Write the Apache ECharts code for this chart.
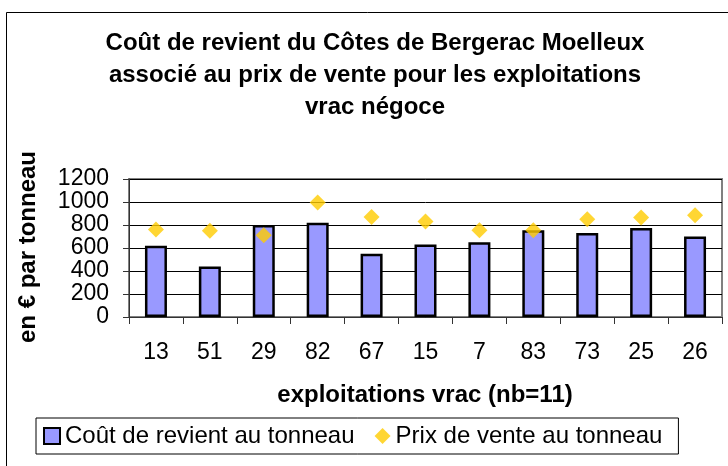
<!DOCTYPE html>
<html>
<head>
<meta charset="utf-8">
<script src="https://cdn.jsdelivr.net/npm/echarts@6/dist/echarts.min.js"></script>
<style>
html,body{margin:0;padding:0;background:#fff;}
#chart{width:728px;height:466px;}
</style>
</head>
<body>
<div id="chart"></div>
<script>
var categories = ['13','51','29','82','67','15','7','83','73','25','26'];
var coutRevient = [620, 440, 800, 820, 550, 630, 650, 755, 730, 775, 700];
var prixVente = [760, 750, 710, 995, 870, 830, 755, 755, 850, 865, 885];
var yTicks = {min: 0, max: 1200, interval: 200};

var FONT = 'Liberation Sans, Arial, sans-serif';
var chart = echarts.init(document.getElementById('chart'), null, {renderer: 'canvas'});
var option = {
  backgroundColor: '#fff',
  animation: false,
  textStyle: {fontFamily: FONT, color: '#000'},
  title: {
    text: 'Coût de revient du Côtes de Bergerac Moelleux\nassocié au prix de vente pour les exploitations\nvrac négoce',
    left: 375, top: 27, padding: 0,
    textAlign: 'center',
    textStyle: {fontFamily: FONT, fontSize: 24, fontWeight: 'bold', lineHeight: 32, color: '#000'}
  },
  legend: {
    left: 36, top: 418,
    padding: [6, 16, 6, 7],
    borderColor: '#000', borderWidth: 1,
    itemWidth: 16, itemHeight: 16, itemGap: 20,
    textStyle: {fontFamily: FONT, fontSize: 24, color: '#000'},
    data: [
      {name: 'Coût de revient au tonneau', icon: 'rect', itemStyle: {color: '#9999FF', borderColor: '#000', borderWidth: 2}},
      {name: 'Prix de vente au tonneau', icon: 'diamond', itemStyle: {color: '#FFCC00'}}
    ]
  },
  grid: {
    left: 129, top: 179, right: 6, bottom: 149,
    show: true, borderColor: '#808080', borderWidth: 2, backgroundColor: '#fff'
  },
  xAxis: {
    type: 'category',
    data: categories,
    boundaryGap: true,
    axisLine: {lineStyle: {color: '#333', width: 1}},
    axisTick: {show: true, alignWithLabel: false, interval: 0, length: 7, lineStyle: {color: '#333'}},
    axisLabel: {fontSize: 23, color: '#000', margin: 24, interval: 0, fontFamily: FONT},
    splitLine: {show: false}
  },
  yAxis: {
    type: 'value',
    min: yTicks.min, max: yTicks.max, interval: yTicks.interval,
    axisLine: {show: true, lineStyle: {color: '#333', width: 1}},
    axisTick: {show: true, length: 6, lineStyle: {color: '#333'}},
    axisLabel: {fontSize: 23, color: '#000', margin: 20, fontFamily: FONT, formatter: function (v) { return String(v); }},
    splitLine: {show: true, lineStyle: {color: '#000', width: 1}}
  },
  graphic: [
    {type: 'rect', shape: {x: 6.5, y: 12.5, width: 800, height: 600}, style: {fill: 'none', stroke: '#000', lineWidth: 1}, z: 100, silent: true},
    {type: 'text', x: 425, y: 395, style: {text: 'exploitations vrac (nb=11)', font: 'bold 24px ' + FONT, fill: '#000', align: 'center', verticalAlign: 'middle'}},
    {type: 'text', x: 28, y: 247, rotation: Math.PI / 2, style: {text: 'en € par tonneau', font: 'bold 24px ' + FONT, fill: '#000', align: 'center', verticalAlign: 'middle'}}
  ],
  series: [
    {
      name: 'Coût de revient au tonneau',
      type: 'bar',
      data: coutRevient,
      barWidth: 22,
      itemStyle: {color: '#9999FF', borderColor: '#000', borderWidth: 2.5},
      z: 2
    },
    {
      name: 'Prix de vente au tonneau',
      type: 'scatter',
      data: prixVente,
      symbol: 'diamond',
      symbolSize: 16,
      itemStyle: {color: '#FFCC00'},
      z: 3
    }
  ]
};
chart.setOption(option);
</script>
</body>
</html>
